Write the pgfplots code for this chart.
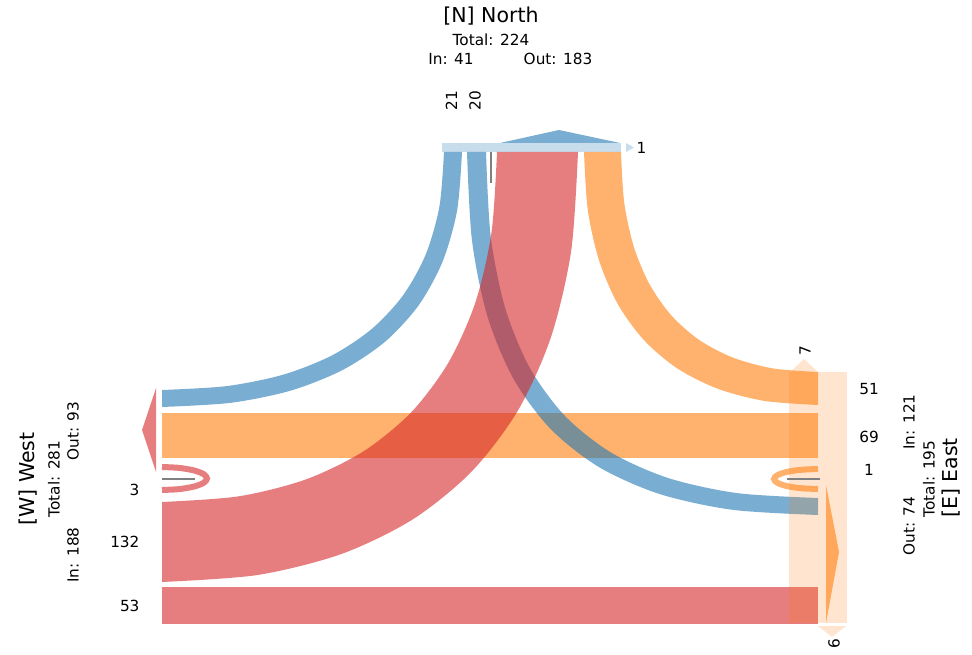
\documentclass[border=0pt]{standalone}
\usepackage{fontspec}
\setmainfont{DejaVu Sans}
\usepackage{pgfplots}
\pgfplotsset{compat=1.18}
\usepgfplotslibrary{fillbetween}
\definecolor{tblue}{HTML}{1F77B4}
\definecolor{torange}{HTML}{FF7F0E}
\definecolor{tred}{HTML}{D62728}
\definecolor{lgray}{HTML}{808080}
\newcommand{\sml}{\fontsize{15.3}{18}\selectfont}
\newcommand{\ttl}{\fontsize{20.5}{24}\selectfont}
\begin{document}
\begin{tikzpicture}
\begin{axis}[width=972pt,height=654pt,scale only axis,
  xmin=0,xmax=972,ymin=0,ymax=654,y dir=reverse,hide axis,clip=false,
  fill between/on layer=main,
  every node/.style={inner sep=0pt}]
% straight bands
\addplot[draw=none,fill=torange,fill opacity=0.6] coordinates {(162,413) (818,413) (818,457.5) (162,457.5)} --cycle;
\addplot[draw=none,fill=tred,fill opacity=0.6] coordinates {(162,587) (818,587) (818,623.5) (162,623.5)} --cycle;
% orange 51 : East -> North
\addplot[draw=none,smooth,name path=oa] coordinates {(584,152) (587.8,210.1) (599.2,260.9) (617.9,304.3) (644.0,340.2) (677.1,368.3) (717.3,388.6) (764.3,400.9) (818,405)};
\addplot[draw=none,smooth,name path=ob] coordinates {(621,152) (624.2,202.5) (633.8,246.7) (649.6,284.4) (671.5,315.6) (699.4,340.1) (733.2,357.7) (772.8,368.4) (818,372)};
\addplot[draw=none,fill=torange,fill opacity=0.6] fill between[of=oa and ob];
% blue 21 : North -> West
\addplot[draw=none,smooth,name path=ba] coordinates {(444,152) (439.4,206.6) (425.7,254.5) (403.1,295.3) (371.7,329.0) (331.8,355.5) (283.4,374.6) (226.7,386.1) (162,390)};
\addplot[draw=none,smooth,name path=bb] coordinates {(462,152) (457.1,210.5) (442.5,261.8) (418.5,305.5) (385.1,341.7) (342.6,370.0) (291.1,390.5) (230.9,402.8) (162,407)};
\addplot[draw=none,fill=tblue,fill opacity=0.6] fill between[of=ba and bb];
% blue 20 : North -> East
\addplot[draw=none,smooth,name path=ca] coordinates {(467,152) (472.0,240.6) (487.3,315.9) (513.3,378.5) (550.4,428.8) (599.0,467.1) (659.5,494.0) (732.4,509.8) (818,515)};
\addplot[draw=none,smooth,name path=cb] coordinates {(486,152) (490.7,236.4) (505.2,308.2) (529.8,367.9) (564.8,415.8) (610.8,452.4) (668.1,478.0) (737.0,493.1) (818,498)};
\addplot[draw=none,fill=tblue,fill opacity=0.6] fill between[of=ca and cb];
% red 132 : West -> North
\addplot[draw=none,smooth,name path=ra] coordinates {(497,152) (491.5,232.4) (475.3,302.7) (448.4,362.7) (411.2,412.3) (363.7,451.2) (306.2,479.3) (238.9,496.3) (162,502)};
\addplot[draw=none,smooth,name path=rb] coordinates {(578,152) (571.2,250.7) (551.0,337.1) (517.7,410.9) (471.4,471.8) (412.4,519.6) (341.1,554.1) (257.5,575.0) (162,582)};
\addplot[draw=none,fill=tred,fill opacity=0.6] fill between[of=ra and rb];
% U-turns
\addplot[tred,draw opacity=0.6,line width=6pt,smooth] coordinates {(162,467) (179.2,467.9) (193.8,470.4) (203.6,474.1) (207,478.5) (203.6,482.9) (193.8,486.6) (179.2,489.1) (162,490)};
\addplot[torange,draw opacity=0.6,line width=6pt,smooth] coordinates {(818,469) (801.1,469.8) (786.9,471.9) (777.3,475.2) (774,479) (777.3,482.8) (786.9,486.1) (801.1,488.2) (818,489)};
% East box
\addplot[draw=none,fill=torange,fill opacity=0.2] coordinates {(789,372) (847,372) (847,623) (789,623)} --cycle;
\addplot[draw=none,fill=torange,fill opacity=0.2] coordinates {(790,372) (804,359) (818,372)} --cycle;
\addplot[draw=none,fill=torange,fill opacity=0.2] coordinates {(818,626) (832,637) (846,626)} --cycle;
\addplot[draw=none,fill=torange,fill opacity=0.6] coordinates {(826,485) (839,552) (826,623)} --cycle;
% North bar
\addplot[draw=none,fill=tblue,fill opacity=0.25] coordinates {(442,143) (621,143) (621,152) (442,152)} --cycle;
\addplot[draw=none,fill=tblue,fill opacity=0.6] coordinates {(500,143) (559,130) (620,143)} --cycle;
\addplot[draw=none,fill=tblue,fill opacity=0.25] coordinates {(626,143) (634,147.5) (626,152)} --cycle;
% West arrow
\addplot[draw=none,fill=tred,fill opacity=0.6] coordinates {(156,388) (142,430) (156,472)} --cycle;
% gray marks
\addplot[lgray,line width=1.5pt] coordinates {(162,479) (195,479)};
\addplot[lgray,line width=1.5pt] coordinates {(787,479) (820,479)};
\addplot[lgray,line width=1.5pt] coordinates {(491,152) (491,183)};
% North labels
\node[anchor=base] at (axis cs:491,23) {\ttl [N] North};
\node[anchor=base] at (axis cs:491,45.5) {\sml Total: 224};
\node[anchor=base] at (axis cs:451,65) {\sml In: 41};
\node[anchor=base] at (axis cs:558,65) {\sml Out: 183};
\node[rotate=90] at (axis cs:451.5,101) {\sml 21};
\node[rotate=90] at (axis cs:475,101) {\sml 20};
\node at (axis cs:641.5,148) {\sml 1};
% West labels
\node[rotate=90,anchor=base] at (axis cs:34.5,479) {\ttl [W] West};
\node[rotate=90,anchor=base] at (axis cs:59.5,479) {\sml Total: 281};
\node[rotate=90,anchor=base] at (axis cs:78.5,431) {\sml Out: 93};
\node[rotate=90,anchor=base] at (axis cs:78.5,555) {\sml In: 188};
\node[anchor=east] at (axis cs:143,490) {\sml 3};
\node[anchor=east] at (axis cs:143,542) {\sml 132};
\node[anchor=east] at (axis cs:143,606) {\sml 53};
% East labels
\node at (axis cs:869,389) {\sml 51};
\node at (axis cs:869,437) {\sml 69};
\node at (axis cs:869,470) {\sml 1};
\node[rotate=90,anchor=base] at (axis cs:914.5,422) {\sml In: 121};
\node[rotate=90,anchor=base] at (axis cs:934.5,479) {\sml Total: 195};
\node[rotate=90,anchor=base] at (axis cs:957,478) {\ttl [E] East};
\node[rotate=90,anchor=base] at (axis cs:914.5,526) {\sml Out: 74};
\node[rotate=90] at (axis cs:805,351) {\sml 7};
\node[rotate=90] at (axis cs:834,644) {\sml 6};
\end{axis}
\pgfresetboundingbox
\path (current axis.south west) rectangle (current axis.north east);
\end{tikzpicture}
\end{document}
